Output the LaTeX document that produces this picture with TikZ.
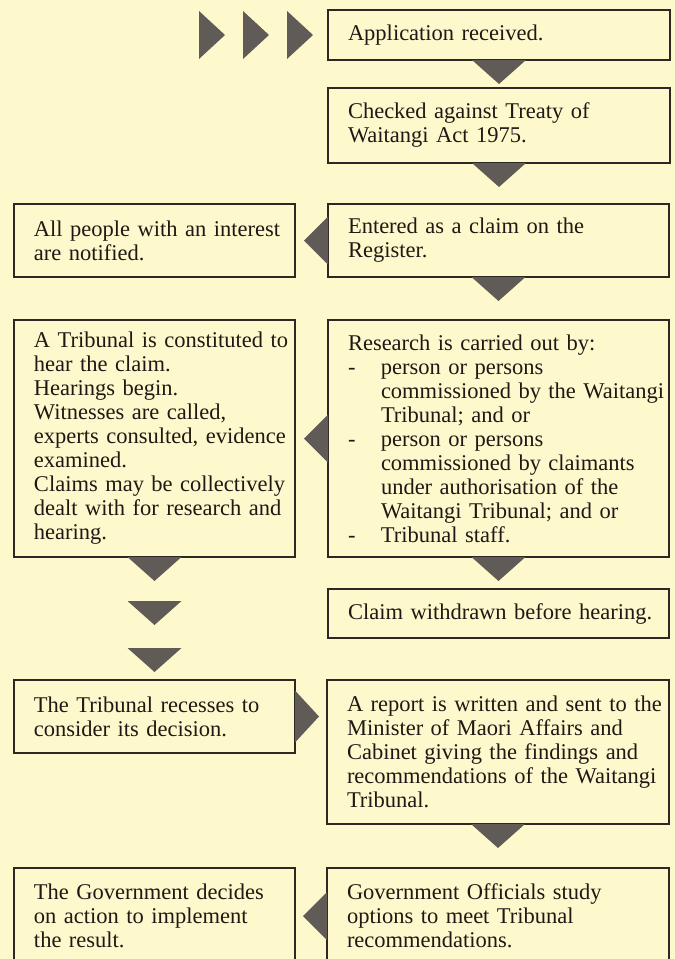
\documentclass[tikz,border=0pt]{standalone}
\usepackage{fontspec}
\setmainfont{Liberation Serif}
\usepackage{tikz}
\definecolor{PaperYellow}{RGB}{254,249,204}
\definecolor{BoxLine}{RGB}{45,40,35}
\definecolor{ArrowGray}{RGB}{96,91,86}
\definecolor{InkDark}{RGB}{30,25,20}
\newcommand{\resdash}{\makebox[33pt][l]{-}}
\newcommand{\resindent}{\hspace*{33pt}}

\begin{document}
\begin{tikzpicture}[
		x=1pt, y=-1pt,
		box/.style={draw=BoxLine, line width=1.6pt, anchor=north west, outer sep=0pt,
			inner xsep=4pt, inner ysep=0pt, align=left, text=InkDark,
			font=\fontsize{22.5}{24}\selectfont, execute at begin node={\leftskip=16pt}},
		leftbox/.style={box, text width=273pt},
		rightbox/.style={box, text width=333pt},
		pointer/.style={fill=ArrowGray}
	]
	\useasboundingbox (0,0) rectangle (675,959);
	\fill[PaperYellow] (0,0) rectangle (675,959);
	\clip (0,0) rectangle (675,959);

	% right column
	\node[rightbox, text width=334pt, minimum height=50pt] at (328,10) (app) {Application received.};
	\node[rightbox, text width=334pt, minimum height=75pt] at (328,88) (check) {Checked against Treaty of\\Waitangi Act 1975.};
	\node[rightbox, minimum height=73pt] at (328,204) (enter) {Entered as a claim on the\\Register.};
	\node[rightbox, minimum height=237pt] at (328,320) (research) {Research is carried out by:\\
		\resdash person or persons\\
		\resindent commissioned by the Waitangi\\
		\resindent Tribunal; and or\\
		\resdash person or persons\\
		\resindent commissioned by claimants\\
		\resindent under authorisation of the\\
		\resindent Waitangi Tribunal; and or\\
		\resdash Tribunal staff.};
	\node[rightbox, minimum height=49pt] at (328,589) (withdraw) {Claim withdrawn before hearing.};
	\node[rightbox, text width=334pt, minimum height=144pt] at (327,680) (report) {A report is written and sent to the\\Minister of Maori Affairs and\\Cabinet giving the findings and\\recommendations of the Waitangi\\Tribunal.};
	\node[rightbox, text width=334pt, minimum height=96pt] at (327,868) (officials) {Government Officials study\\options to meet Tribunal\\recommendations.};

	% left column
	\node[leftbox, minimum height=73pt] at (14,204) (notify) {All people with an interest\\are notified.};
	\node[leftbox, minimum height=237pt] at (14,320) (hear) {A Tribunal is constituted to\\hear the claim.\\Hearings begin.\\Witnesses are called,\\experts consulted, evidence\\examined.\\Claims may be collectively\\dealt with for research and\\hearing.};
	\node[leftbox, minimum height=73pt] at (14,680) (recess) {The Tribunal recesses to\\consider its decision.};
	\node[leftbox, minimum height=96pt] at (14,868) (govt) {The Government decides\\on action to implement\\the result.};

	\coordinate (wait1) at ([yshift=-44pt]hear.south);
	\coordinate (wait2) at ([yshift=-91pt]hear.south);

	% pointers
	\foreach \d in {15,59,103}
		\fill[pointer] ([xshift=-\d pt]app.west) -- ([xshift={-\d-26}, yshift=24]app.west) -- ([xshift={-\d-26}, yshift=-24]app.west) -- cycle;

	\foreach \p in {app.south, check.south, enter.south, research.south, hear.south, wait1, wait2, report.south}
		\fill[pointer] ([xshift=-27pt]\p) -- ([xshift=27pt]\p) -- ([yshift=-24pt]\p) -- cycle;

	\foreach \n in {enter, research, officials}
		\fill[pointer] ([yshift=24pt]\n.west) -- ([yshift=-24pt]\n.west) -- ([xshift=-24pt]\n.west) -- cycle;

	\fill[pointer] ([yshift=26pt]recess.east) -- ([yshift=-26pt]recess.east) -- ([xshift=24pt]recess.east) -- cycle;

\end{tikzpicture}
\end{document}
